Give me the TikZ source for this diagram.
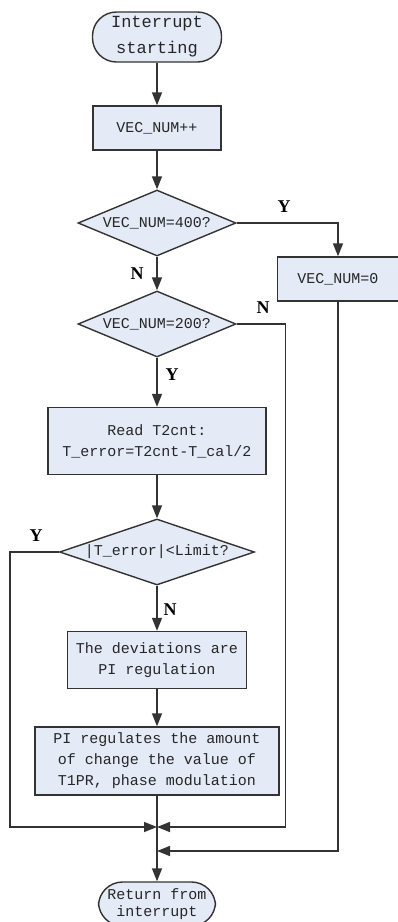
\documentclass[tikz,border=0pt]{standalone}
\usepackage{fontspec}
\setmainfont{Liberation Serif}
\setmonofont{Liberation Mono}
\usetikzlibrary{arrows.meta,shapes.geometric}
\definecolor{boxfill}{HTML}{E4EAF6}
\definecolor{ink}{HTML}{333333}

\begin{document}
\begin{tikzpicture}[x=1pt,y=-1pt,
  base/.style={draw=ink,fill=boxfill,line width=1.4pt,text=black!85,inner sep=0pt,
    align=center,font=\ttfamily\fontsize{15}{21}\selectfont},
  term/.style={base,rounded corners=24pt,minimum height=50pt,
    font=\ttfamily\fontsize{17}{26}\selectfont},
  proc/.style={base,rectangle},
  dec/.style={base,diamond,minimum height=66pt},
  flow/.style={draw=ink,line width=1.4pt},
  arr/.style={flow,-{Triangle[length=13pt,width=10pt]}},
  yn/.style={font=\bfseries\fontsize{18}{18}\selectfont,text=black}]
  \useasboundingbox (0,0) rectangle (398,922);
  % main column
  \node[term,minimum width=129pt] (start) at (157,37) {Interrupt\\starting};
  \node[proc,minimum width=128pt,minimum height=44pt] (inc) at (157,128) {VEC\_NUM++};
  \node[dec,minimum width=158pt,aspect=2.4] (dec1) at (157,223) {VEC\_NUM=400?};
  \node[dec,minimum width=158pt,aspect=2.4] (dec2) at (157,324) {VEC\_NUM=200?};
  \node[proc,minimum width=218pt,minimum height=67pt] (read) at (157,441) {Read T2cnt:\\T\_error=T2cnt-T\_cal/2};
  \node[dec,minimum width=195pt,aspect=2.95] (dec3) at (157,552) {|T\_error|<Limit?};
  \node[proc,minimum width=179pt,minimum height=57pt] (dev) at (157,660) {The deviations are\\PI regulation};
  \node[proc,minimum width=244pt,minimum height=68pt] (pi) at (157,761) {PI regulates the amount\\of change the value of\\T1PR, phase modulation};
  \node[term,minimum width=117pt,minimum height=44pt,font=\ttfamily\fontsize{15}{17}\selectfont] (stop) at (157,904) {Return from\\interrupt};
  % side branch
  \node[proc,minimum width=121pt,minimum height=44pt] (zero) at (338,279) {VEC\_NUM=0};
  % merge points
  \coordinate (j1) at (157,827);
  \coordinate (j2) at (157,851);
  % connectors
  \draw[arr] (start) -- (inc);
  \draw[arr] (inc) -- (dec1);
  \draw[arr] (dec1.east) -| (zero.north);
  \draw[arr] (dec1) -- (dec2);
  \draw[arr] (dec2) -- (read);
  \draw[arr] (dec2.east) -- ++(49,0) |- (j1);
  \draw[arr] (read) -- (dec3);
  \draw[arr] (dec3.west) -- ++(-49,0) |- (j1);
  \draw[arr] (dec3) -- (dev);
  \draw[arr] (dev) -- (pi);
  \draw[arr] (pi) -- (stop);
  \draw[arr] (zero.south) |- (j2);
  % branch labels
  \node[yn] (y1) at (284,207) {Y};
  \node[yn] (n1) at (137,274) {N};
  \node[yn] (n2) at (263,308) {N};
  \node[yn] (y2) at (172,375) {Y};
  \node[yn] (y3) at (36,536) {Y};
  \node[yn] (n3) at (170,610) {N};
\end{tikzpicture}
\end{document}
